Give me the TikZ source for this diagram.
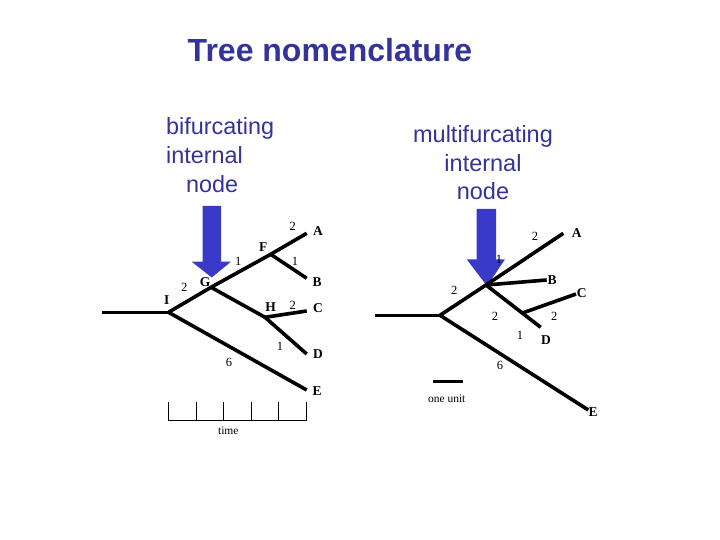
\documentclass[tikz,border=0pt]{standalone}
\usepackage{fontspec}
\setmainfont{Liberation Serif}
\newfontfamily\arialfont{Liberation Sans}
\definecolor{titleblue}{RGB}{51,51,153}
\definecolor{arrowblue}{RGB}{58,58,200}
\begin{document}
\begin{tikzpicture}[x=1pt,y=-1pt,
  branch/.style={line width=3.6pt, line join=round},
  scaleline/.style={line width=0.9pt},
  leaf/.style={font=\bfseries\fontsize{13.5}{14}\selectfont, inner sep=0pt},
  num/.style={font=\fontsize{12.5}{13}\selectfont, inner sep=0pt},
  small/.style={font=\fontsize{11.5}{12}\selectfont, inner sep=0pt},
  head/.style={font=\arialfont\fontsize{23.4}{28}\selectfont, text=titleblue, inner sep=0pt, anchor=base west},
  headc/.style={font=\arialfont\fontsize{23.5}{28}\selectfont, text=titleblue, inner sep=0pt, anchor=base},
  bigarrow/.style={fill=arrowblue}]
\useasboundingbox (0,0) rectangle (720,540);

% title
\node[font=\arialfont\bfseries\fontsize{32}{36}\selectfont, text=titleblue, inner sep=0pt, anchor=base] (title) at (330,61.7) {Tree nomenclature};

% left heading
\node[head] (bl1) at (166,135) {bifurcating};
\node[head] (bl2) at (166,163.3) {internal};
\node[head] (bl3) at (186,192.3) {node};
% right heading
\node[headc] (ml1) at (483,142.7) {multifurcating};
\node[headc] (ml2) at (483,171.7) {internal};
\node[headc] (ml3) at (483,200) {node};

% arrows (behind the trees)
\fill[bigarrow] (202.7,206) -- (221,206) -- (221,261.7) -- (231,261.7) -- (211.7,277.5) -- (191.7,261.7) -- (202.7,261.7) -- cycle;
\fill[bigarrow] (476.7,209) -- (496,209) -- (496,259.3) -- (505,259.3) -- (487,286) -- (466.7,259.3) -- (476.7,259.3) -- cycle;

% ---------- left tree ----------
\coordinate (lroot) at (102.3,312.3);
\coordinate (I) at (168.5,312.3);
\coordinate (G) at (211,287.3);
\coordinate (F) at (270.7,254.3);
\coordinate (A) at (306.7,233.3);
\coordinate (B) at (306.7,278.3);
\coordinate (H) at (265,317.3);
\coordinate (C) at (306.7,311);
\coordinate (D) at (306.7,354);
\coordinate (E) at (306.7,390);

\draw[branch] (lroot) -- (I);
\draw[branch] (I) -- (G);
\draw[branch] (G) -- (F);
\draw[branch] (F) -- (A);
\draw[branch] (F) -- (B);
\draw[branch] (G) -- (H);
\draw[branch] (H) -- (C);
\draw[branch] (H) -- (D);
\draw[branch] (I) -- (E);

\node[leaf] (lA) at (318,231) {A};
\node[leaf] (lB) at (317,281.7) {B};
\node[leaf] (lC) at (318,308) {C};
\node[leaf] (lD) at (318,354) {D};
\node[leaf] (lE) at (317,390.7) {E};
\node[leaf] (lF) at (263.3,246.7) {F};
\node[leaf] (lG) at (205,282) {G};
\node[leaf] (lH) at (270.7,306.7) {H};
\node[leaf] (lI) at (166.7,300) {I};

\node[num] (n1) at (292.7,226.7) {2};
\node[num] (n2) at (295,261.7) {1};
\node[num] (n3) at (238.3,261.7) {1};
\node[num] (n4) at (184.3,287.3) {2};
\node[num] (n5) at (292.7,305) {2};
\node[num] (n6) at (280,346.7) {1};
\node[num] (n7) at (229,362.3) {6};

% time scale
\coordinate (t0) at (168.3,420);
\coordinate (t5) at (306.7,420);
\draw[scaleline] (168.3,402.3) -- (t0) -- (t5) -- (306.7,402.3);
\foreach \x in {196,223.5,251,278.5}
  \draw[scaleline] (\x,402.3) -- (\x,420);
\node[small] (time) at (228.3,430.7) {time};

% ---------- right tree ----------
\coordinate (rroot) at (375,315.3);
\coordinate (R) at (440,315.3);
\coordinate (M) at (486,285);
\coordinate (RA) at (563.3,233.3);
\coordinate (RB) at (546.7,280);
\coordinate (N) at (523.3,312.7);
\coordinate (RC) at (576,294);
\coordinate (RD) at (540.7,327.3);
\coordinate (RE) at (588.3,410);

\draw[branch] (rroot) -- (R);
\draw[branch] (R) -- (M);
\draw[branch] (M) -- (RA);
\draw[branch] (M) -- (RB);
\draw[branch] (M) -- (RD);
\draw[branch] (N) -- (RC);
\draw[branch] (R) -- (RE);

\node[leaf] (rA) at (576.7,232.7) {A};
\node[leaf] (rB) at (552,280) {B};
\node[leaf] (rC) at (581.7,292.7) {C};
\node[leaf] (rD) at (546,340) {D};
\node[leaf] (rE) at (593,412.3) {E};

\node[num] (m1) at (535,236.7) {2};
\node[num] (m2) at (499,259.3) {1};
\node[num] (m3) at (454.3,290.7) {2};
\node[num] (m4) at (495,316.7) {2};
\node[num] (m5) at (554.3,316.7) {2};
\node[num] (m6) at (520,335) {1};
\node[num] (m7) at (500,365) {6};

% one unit bar
\coordinate (u0) at (433.3,381.7);
\coordinate (u1) at (463.3,381.7);
\draw[line width=3.2pt] (u0) -- (u1);
\node[small] (unit) at (446.7,398.3) {one unit};
\end{tikzpicture}
\end{document}
